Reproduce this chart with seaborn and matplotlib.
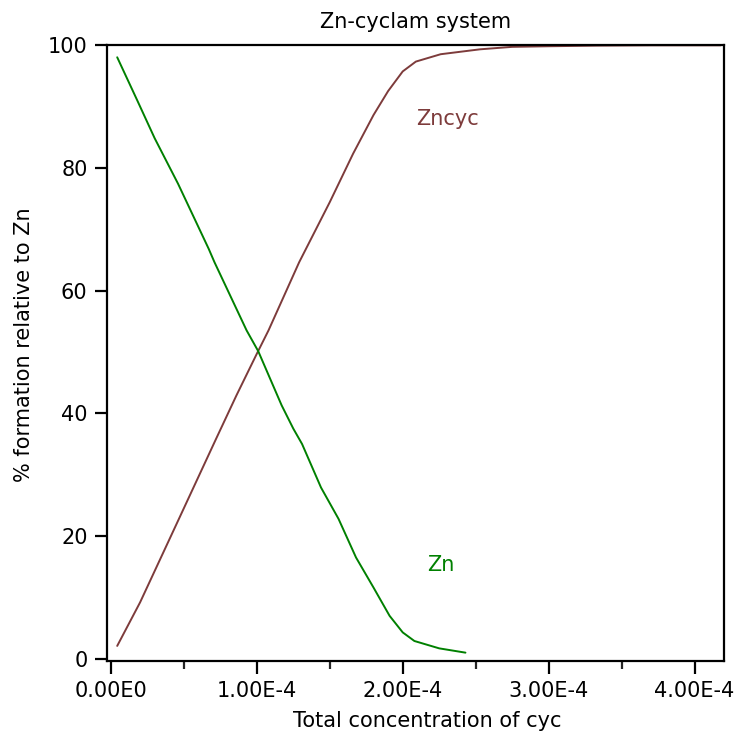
import matplotlib
matplotlib.use("Agg")
import matplotlib.pyplot as plt
from matplotlib.ticker import FixedLocator, FixedFormatter, MultipleLocator
import pandas as pd
import seaborn as sns

# Total cyclam concentration (units of 1e-4 M) and % species relative to Zn
zncyc_conc = [0.043, 0.20, 0.47, 0.72, 0.86, 1.00, 1.08, 1.29, 1.50, 1.66, 1.80,
              1.90, 2.00, 2.09, 2.26, 2.53, 2.75, 3.00, 3.33, 3.70, 4.18]
zncyc_pct = [2.1, 9.2, 23.0, 35.8, 42.9, 49.7, 53.5, 64.6, 74.4, 82.3, 88.6,
             92.5, 95.7, 97.3, 98.5, 99.3, 99.7, 99.8, 99.9, 99.95, 99.95]

zn_conc = [0.043, 0.18, 0.30, 0.46, 0.67, 0.71, 0.93, 1.01, 1.17, 1.25, 1.31,
           1.44, 1.56, 1.68, 1.80, 1.91, 2.00, 2.08, 2.25, 2.43]
zn_pct = [98.0, 91.0, 84.8, 77.4, 66.8, 64.6, 53.5, 50.1, 41.3, 37.5, 35.0,
          27.9, 22.8, 16.5, 11.6, 7.0, 4.3, 2.9, 1.7, 1.0]

x_ticks = [0.0, 1.0, 2.0, 3.0, 4.0]
x_tick_labels = ["0.00E0", "1.00E-4", "2.00E-4", "3.00E-4", "4.00E-4"]
y_ticks = [0, 20, 40, 60, 80, 100]

SCALE = 1e-4
BROWN = "#7d3b3b"
GREEN = "#008000"
FS = 15

sns.set_style("ticks")
plt.rcParams["font.family"] = ["DejaVu Sans"]
plt.rcParams["text.color"] = "black"
plt.rcParams["axes.labelcolor"] = "black"

df_zncyc = pd.DataFrame({"conc": [v * SCALE for v in zncyc_conc], "pct": zncyc_pct})
df_zn = pd.DataFrame({"conc": [v * SCALE for v in zn_conc], "pct": zn_pct})

fig = plt.figure(figsize=(7.43, 7.38), dpi=100)
ax = fig.add_axes([0.144, 0.104, 0.830, 0.835])

sns.lineplot(data=df_zncyc, x="conc", y="pct", ax=ax, color=BROWN, lw=1.4, sort=False)
sns.lineplot(data=df_zn, x="conc", y="pct", ax=ax, color=GREEN, lw=1.4, sort=False)

ax.set_xlim(-0.027 * SCALE, 4.20 * SCALE)
ax.set_ylim(-0.4, 100)

ax.xaxis.set_major_locator(FixedLocator([v * SCALE for v in x_ticks]))
ax.xaxis.set_major_formatter(FixedFormatter(x_tick_labels))
ax.xaxis.set_minor_locator(MultipleLocator(0.5 * SCALE))
ax.yaxis.set_major_locator(FixedLocator(y_ticks))
ax.yaxis.set_minor_locator(FixedLocator([]))

for side in ax.spines.values():
    side.set_linewidth(1.6)
    side.set_color("black")

ax.tick_params(axis="both", which="major", length=9, width=1.6, labelsize=FS, pad=5,
               colors="black")
ax.tick_params(axis="x", which="minor", length=6, width=1.6)

ax.set_xlabel("Total concentration of cyc", fontsize=FS, color="black")
ax.set_ylabel("% formation relative to Zn", fontsize=FS, color="black")
ax.xaxis.set_label_coords(0.52, -0.080)
ax.yaxis.set_label_coords(-0.119, 0.513)
ax.set_title("Zn-cyclam system", fontsize=FS, pad=12, color="black")

ax.text(2.31 * SCALE, 88, "Zncyc", color=BROWN, fontsize=FS, ha="center", va="center")
ax.text(2.26 * SCALE, 15.2, "Zn", color=GREEN, fontsize=FS, ha="center", va="center")

fig.savefig("out.png", dpi=100)
